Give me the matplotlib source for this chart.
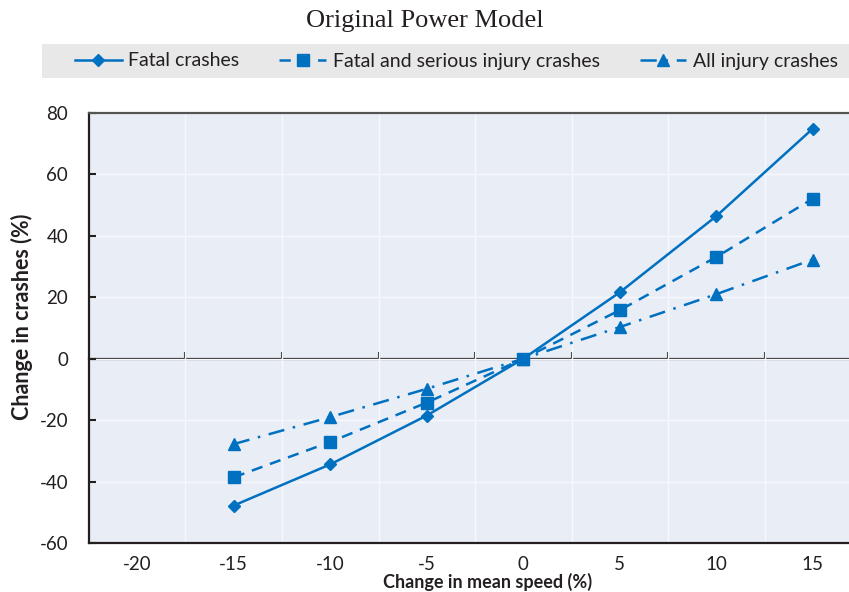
import matplotlib
matplotlib.use("Agg")
import matplotlib.pyplot as plt
from matplotlib.patches import Rectangle

plt.rcParams['font.family'] = ['Lato', 'DejaVu Sans']
plt.rcParams['axes.unicode_minus'] = False

# change in mean speed (%)
speed_change = [-15, -10, -5, 0, 5, 10, 15]

# change in crashes (%)
fatal = [-47.8, -34.4, -18.5, 0, 21.6, 46.4, 74.9]
fatal_serious = [-38.6, -27.1, -14.3, 0, 15.8, 33.1, 52.1]
all_injury = [-27.8, -19.0, -9.8, 0, 10.3, 21.0, 32.3]

x_tick_labels = [-20, -15, -10, -5, 0, 5, 10, 15]
y_ticks = [-60, -40, -20, 0, 20, 40, 60, 80]

blue = '#0070C0'
dark = '#231F20'

fig = plt.figure(figsize=(8.49, 5.92), dpi=100)
ax = fig.add_axes([89 / 849, 1 - 543 / 592, (861 - 89) / 849, (543 - 113) / 592])
ax.set_facecolor('#E9EDF6')

l1, = ax.plot(speed_change, fatal, color=blue, lw=1.8, marker='D', ms=6.5,
              label='Fatal crashes', zorder=5)
l2, = ax.plot(speed_change, fatal_serious, color=blue, lw=1.8, ls=(0, (4.5, 3.2)),
              marker='s', ms=8, label='Fatal and serious injury crashes', zorder=5)
l3, = ax.plot(speed_change, all_injury, color=blue, lw=1.8, ls=(0, (6.5, 3.5, 1, 3.5)),
              marker='^', ms=8.5, label='All injury crashes', zorder=5)

ax.set_xlim(-22.5, 17.5)
ax.set_ylim(-60, 80)

# x labels without tick marks; gridlines sit half-way between labels
ax.set_xticks(x_tick_labels)
ax.set_xticklabels([str(v) for v in x_tick_labels])
minor_x = [v + 2.5 for v in x_tick_labels[:-1]]
ax.set_xticks(minor_x, minor=True)
ax.tick_params(axis='x', which='both', length=0, labelsize=13.5, pad=9, colors=dark)
ax.grid(True, axis='x', which='minor', color='#F7F8FC', lw=1)

ax.set_yticks(y_ticks)
ax.set_yticklabels([str(v) for v in y_ticks])
ax.tick_params(axis='y', direction='in', length=5, width=1.5, labelsize=13.5, colors=dark, pad=15)
ax.grid(True, axis='y', which='major', color='#F7F8FC', lw=1)
ax.set_axisbelow(True)

for side in ['left', 'bottom', 'top']:
    ax.spines[side].set_color(dark)
    ax.spines[side].set_linewidth(1.6)
ax.spines['top'].set_color('#555555')
ax.spines['right'].set_visible(False)

# zero line carrying the tick marks
zero_ax = ax.secondary_xaxis(60 / 140)
zero_ax.set_xticks(minor_x)
zero_ax.set_xticklabels([])
zero_ax.tick_params(direction='in', length=5, width=1.5, colors=dark)
zero_ax.spines['bottom'].set_color(dark)
zero_ax.spines['bottom'].set_linewidth(1.6)

ax.set_xlabel('Change in mean speed (%)', fontsize=13, fontweight='bold', color=dark)
ax.xaxis.set_label_coords((488 - 89) / 772, (543 - 582) / 430)
ax.xaxis.label.set_va('center')
ax.set_ylabel('Change in crashes (%)', fontsize=15.5, fontweight='bold', color=dark)
ax.yaxis.set_label_coords((22 - 89) / 772, 0.525)
ax.yaxis.label.set_va('center')

fig.text(0.5, 1 - 21 / 592, 'Original Power Model', family='Liberation Serif',
         fontsize=19, ha='center', va='center', color=dark)

fig.patches.append(Rectangle((42 / 849, 1 - 78 / 592), (849 - 42) / 849, 34 / 592,
                             transform=fig.transFigure, facecolor='#E8E8E8',
                             edgecolor='none', zorder=0))
fig.legend(handles=[l1, l2, l3], loc='center', bbox_to_anchor=((75 + 838) / 2 / 849, 1 - 61 / 592),
           ncol=3, frameon=False, fontsize=14, handlelength=2.4, handletextpad=0.35,
           columnspacing=2.05, labelcolor=dark)

fig.savefig('out.png', dpi=100)
